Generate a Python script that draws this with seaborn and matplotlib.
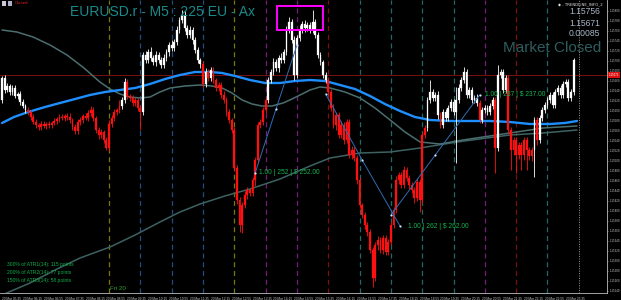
import numpy as np
import pandas as pd
import matplotlib
matplotlib.use("Agg")
import matplotlib.pyplot as plt
import matplotlib.transforms as mtrans
from matplotlib.patches import Rectangle
import seaborn as sns

# ---------------- data (prices in points above 1.15000, 1 point = 0.00001) ----------------
first_open = 621
close_pts = [
    665, 641, 649, 637, 645, 629, 633, 617, 609, 601, 597, 587, 577, 571, 567, 573, 569, 573, 571, 575,
    579, 583, 587, 585, 589, 587, 581, 567, 559, 577, 581, 589, 585, 595, 601, 585, 561, 551, 557, 541,
    525, 573, 585, 597, 601, 609, 621, 657, 629, 625, 615, 621, 605, 597, 711, 701, 717, 705, 697, 711,
    701, 691, 705, 717, 731, 725, 737, 761, 781, 791, 765, 751, 761, 741, 721, 701, 693, 653, 677, 665,
    681, 661, 645, 651, 631, 621, 597, 581, 561, 485, 421, 371, 411, 431, 441, 435, 461, 501, 571, 577,
    601, 621, 661, 677, 697, 685, 705, 701, 717, 761, 777, 741, 671, 745, 761, 773, 765, 771, 761, 777,
    751, 711, 697, 671, 661, 637, 605, 571, 591, 551, 571, 541, 577, 511, 521, 505, 461, 411, 391, 371,
    357, 321, 265, 331, 341, 321, 345, 317, 337, 371, 401, 461, 471, 451, 481, 465, 451, 441, 425, 457,
    421, 551, 565, 621, 637, 625, 631, 591, 571, 597, 585, 605, 617, 597, 621, 645, 661, 677, 631, 641,
    621, 625, 615, 581, 601, 605, 597, 609, 621, 525, 671, 677, 641, 665, 561, 521, 541, 511, 531, 511,
    541, 521, 509, 521, 581, 541, 585, 601, 611, 621, 631, 611, 637, 645, 631, 653, 657, 625, 637, 701,
]
upper_wick = [
    4, 6, 6, 4, 6, 6, 4, 6, 6, 4, 6, 4, 6, 6, 4, 6, 6, 4, 6, 4,
    6, 4, 6, 6, 4, 6, 8, 4, 6, 6, 6, 4, 6, 6, 8, 6, 4, 6, 6, 4,
    6, 8, 6, 6, 4, 12, 6, 8, 6, 4, 6, 6, 4, 6, 6, 8, 6, 10, 6, 8,
    6, 6, 8, 6, 6, 10, 6, 8, 6, 10, 8, 6, 8, 6, 6, 6, 4, 6, 8, 6,
    6, 6, 4, 6, 6, 8, 6, 6, 4, 6, 6, 6, 6, 8, 6, 4, 6, 6, 6, 6,
    6, 6, 6, 6, 8, 6, 6, 10, 6, 8, 10, 6, 8, 6, 10, 6, 8, 6, 6, 24,
    6, 6, 6, 4, 6, 6, 6, 8, 6, 6, 8, 6, 6, 6, 8, 6, 6, 6, 4, 6,
    6, 6, 6, 6, 8, 6, 6, 6, 6, 6, 6, 8, 6, 6, 8, 6, 6, 6, 6, 8,
    6, 6, 6, 6, 24, 6, 6, 8, 6, 6, 6, 6, 6, 6, 26, 8, 6, 10, 6, 6,
    6, 6, 8, 6, 6, 6, 6, 6, 6, 6, 20, 6, 6, 6, 6, 6, 6, 6, 6, 6,
    6, 6, 6, 6, 6, 6, 6, 6, 6, 6, 6, 6, 6, 6, 6, 6, 6, 6, 6, 4,
]
lower_wick = [
    6, 6, 4, 6, 6, 4, 6, 6, 4, 6, 6, 6, 4, 6, 6, 6, 4, 6, 6, 6,
    4, 6, 6, 4, 6, 6, 6, 6, 6, 6, 6, 6, 4, 6, 6, 6, 6, 8, 6, 6,
    4, 6, 6, 6, 6, 6, 6, 6, 6, 6, 6, 6, 6, 36, 6, 6, 6, 6, 6, 8,
    6, 6, 6, 6, 8, 6, 6, 6, 6, 6, 6, 6, 6, 8, 6, 6, 8, 6, 6, 6,
    6, 6, 6, 6, 6, 6, 8, 6, 6, 6, 8, 14, 16, 6, 8, 6, 6, 12, 6, 6,
    6, 6, 6, 6, 6, 6, 8, 6, 6, 6, 6, 6, 10, 6, 6, 6, 8, 6, 6, 6,
    6, 6, 6, 6, 6, 8, 6, 6, 10, 6, 6, 8, 6, 6, 8, 6, 8, 6, 6, 8,
    8, 6, 18, 6, 10, 6, 8, 6, 6, 6, 6, 6, 8, 6, 6, 6, 8, 6, 10, 6,
    24, 6, 6, 6, 6, 6, 6, 8, 6, 6, 6, 6, 6, 6, 102, 6, 6, 6, 6, 6,
    6, 6, 6, 6, 6, 6, 6, 6, 6, 50, 6, 6, 6, 6, 8, 40, 10, 36, 8, 30,
    10, 40, 8, 10, 54, 10, 6, 6, 6, 6, 6, 6, 6, 6, 6, 6, 6, 6, 6, 6,
]
# W = candle above the blue average (white), R = below (red)
candle_flags = ("W" * 10 + "R" * 36 + "W" * 2 + "R" * 6 + "W" * 23 + "R" + "W" + "R" + "W"
                + "R" * 21 + "W" * 23 + "R" * 38 + "W" * 5 + "R" + "W" * 14 + "R" + "W" * 5
                + "R" + "W" * 4 + "R" * 10 + "W" + "R" + "W" * 14)

ma_fast_idx = [0, 4.6, 10, 16.5, 22.2, 28, 33.7, 39.5, 45.2, 51, 56.7, 62.5, 68.2, 73.9, 79.7,
               84.3, 89.3, 95, 100.8, 106.5, 112.3, 118, 123.8, 129.5, 135.2, 141, 146.7, 152.5,
               158.2, 164, 171.6, 179.3, 187, 194.6, 202.3, 210, 215.7, 220.3]
ma_fast_pts = [575, 587, 597, 607, 615, 623, 631, 637, 641, 645, 653, 663, 671, 677, 677, 675,
               669, 661, 655, 655, 659, 661, 659, 651, 643, 629, 613, 599, 587, 581, 579, 579,
               579, 577, 573, 573, 575, 579]
ma_mid_idx = [0, 5.7, 11.9, 18.4, 24.9, 31.4, 37.5, 41.4, 45.2, 49, 52.9, 56.7, 60.5, 64.4, 70.1,
              75.9, 80.5, 84.3, 88.1, 92, 95.8, 99.6, 103.4, 107.7, 111.1, 114.2, 118, 121.8,
              125.7, 131.4, 137.2, 142.9, 148.7, 154.4, 160.2, 167.8, 176.6, 184.3, 194.6, 207.3,
              220.3]
ma_mid_pts = [761, 757, 747, 731, 711, 685, 657, 643, 633, 627, 625, 627, 637, 645, 649, 651, 649,
              645, 635, 621, 613, 609, 609, 615, 623, 631, 641, 647, 645, 637, 625, 605, 581, 557,
              537, 533, 541, 547, 555, 565, 569]
ma_slow_idx = [0, 10.7, 20.3, 29.9, 41.4, 51, 60.5, 68.2, 75.9, 85.4, 95, 106.5, 118, 125.7,
               137.2, 148.7, 160.2, 174.3, 194.6, 207.3, 220.3]
ma_slow_pts = [231, 255, 281, 305, 327, 351, 377, 397, 413, 429, 443, 463, 489, 505, 515, 517,
               525, 537, 551, 555, 561]

trade_lines = [
    ([97, 105, 113], [475, 603, 731]),
    ([124, 138, 152.5], [633, 501, 369]),
    ([149, 166, 183], [391, 511, 631]),
]
trade_labels = ["1.00 | 252 | $ 252.00", "1.00 | 262 | $ 262.00", "1.00 | 237 | $ 237.00"]
trade_label_pos = [(98.5, 475), (155.5, 369), (185, 631)]

sep_idx = [41, 53, 65, 77, 89, 101, 113, 125, 137, 149, 161, 173, 185, 197, 209]
sep_colors = ["#77770a", "#1d4f86", "#1d4f86", "#1d4f86", "#77770a", "#7a1a7a", "#7a1a7a",
              "#7a1010", "#1f6a66", "#1f6a66", "#1f6a66", "#1f6a66", "#7a1a7a", "#7a1010", "#1f6a66"]

time_tick_idx = [0, 8, 16, 24, 32, 40, 48, 56, 64, 72, 80, 88, 96, 104, 112, 120, 128, 136, 144,
                 152, 160, 168, 176, 184, 192, 200, 208, 216]
time_tick_labels = ["20 Mar 05:35", "20 Mar 06:15", "20 Mar 06:55", "20 Mar 07:35", "20 Mar 08:15",
                    "20 Mar 08:55", "20 Mar 09:35", "20 Mar 10:15", "20 Mar 10:55", "20 Mar 11:35",
                    "20 Mar 12:15", "20 Mar 12:55", "20 Mar 13:35", "20 Mar 14:15", "20 Mar 14:55",
                    "20 Mar 15:35", "20 Mar 16:15", "20 Mar 16:55", "20 Mar 17:35", "20 Mar 18:15",
                    "20 Mar 18:55", "20 Mar 19:35", "20 Mar 20:15", "20 Mar 20:55", "20 Mar 21:35",
                    "20 Mar 22:15", "20 Mar 22:55", "20 Mar 23:35"]

last_price_pts = 671
info_lines = ["1.15756", "1.15671", "0.00085"]
atr_lines = ["300% of ATR1(14): 115 points", "200% of ATR2(14): 77 points",
             "150% of ATR3(14): 58 points"]
title_text = "EURUSD.r - M5 : 225 EU - Ax"

# ---------------- styling ----------------
sns.set_theme(style="dark", rc={"axes.facecolor": "black", "figure.facecolor": "black",
                                "axes.grid": False})
plt.rcParams["font.family"] = ["Liberation Sans", "DejaVu Sans"]

def px(v):
    return 1.15 + np.asarray(v, dtype=float) * 1e-5

W, H = 621, 300
fig = plt.figure(figsize=(W / 100, H / 100), dpi=100)
fig.patch.set_facecolor("black")
ax = fig.add_axes([0, 7 / H, 607 / W, 293 / H])
ax.set_facecolor("black")

closes = px(close_pts)
opens = np.concatenate([[px(first_open)], closes[:-1]])
top = np.maximum(opens, closes)
bot = np.minimum(opens, closes)
highs = top + np.asarray(upper_wick) * 1e-5
lows = bot - np.asarray(lower_wick) * 1e-5
idx = np.arange(len(closes))
cols = ["#ffffff" if f == "W" else "#ff1010" for f in candle_flags]

# separators
for s, c in zip(sep_idx, sep_colors):
    ax.axvline(s, color=c, lw=0.9, ls=(0, (4, 3)), zorder=1)
ax.axvline(221, color="#9a9a9a", lw=0.7, ls=(0, (1, 1.5)), zorder=1)
ax.axhline(px(last_price_pts), color="#7a1010", lw=0.7, zorder=1)

# moving averages
sns.lineplot(x=ma_slow_idx, y=px(ma_slow_pts), ax=ax, color="#3d6262", lw=1.1,
             estimator=None, sort=False, zorder=2)
sns.lineplot(x=ma_mid_idx, y=px(ma_mid_pts), ax=ax, color="#4b6e6e", lw=1.1,
             estimator=None, sort=False, zorder=2)
sns.lineplot(x=ma_fast_idx, y=px(ma_fast_pts), ax=ax, color="#1e8fff", lw=1.7,
             estimator=None, sort=False, zorder=2)

# candles
ax.vlines(idx, lows, highs, colors=cols, lw=0.6, zorder=3)
ax.bar(idx, np.maximum(top - bot, 1.5e-5), bottom=bot, width=0.7, color=cols,
       edgecolor=cols, lw=0.2, zorder=4)

# trade lines
for (tx, ty), lab, (lx, ly) in zip(trade_lines, trade_labels, trade_label_pos):
    sns.lineplot(x=tx, y=px(ty), ax=ax, color="#2e6db4", lw=0.7, estimator=None, sort=False,
                 zorder=5)
    ax.scatter(tx, px(ty), s=2.5, color="#d0e4ff", zorder=6, linewidths=0)
    ax.text(lx, px(ly), lab, color="#12b450", fontsize=4.8, va="center", ha="left", zorder=7)

# magenta box
ax.add_patch(Rectangle((105.4, px(761)), 17.6, 48e-5, fill=False, edgecolor="#ff00ff",
                       lw=1.4, zorder=8))

ax.set_xlim(-0.77, 231.8)
ax.set_ylim(px(235), px(821))

# axes / ticks
for side in ["top", "left"]:
    ax.spines[side].set_visible(False)
for side in ["right", "bottom"]:
    ax.spines[side].set_visible(True)
    ax.spines[side].set_color("#bdbdbd")
    ax.spines[side].set_linewidth(0.6)
ax.yaxis.tick_right()
yt = px(np.arange(240, 801, 20))
ax.set_yticks(yt)
ax.set_yticklabels([f"{v:.5f}" for v in yt])
ax.set_xticks(time_tick_idx)
ax.set_xticklabels(time_tick_labels)
ax.tick_params(axis="y", colors="#c8c8c8", labelsize=2.1, length=1.0, width=0.4, pad=0.8,
               right=True, left=False)
ax.tick_params(axis="x", colors="#c8c8c8", labelsize=2.3, length=1.5, width=0.4, pad=1.5)
for t in ax.get_xticklabels():
    t.set_ha("left")
ax.set_xlabel("")
ax.set_ylabel("")

# last price box on right axis
tr = mtrans.blended_transform_factory(ax.transAxes, ax.transData)
ax.text(1.003, px(last_price_pts), "1.15671", transform=tr, fontsize=2.1, color="white",
        va="center", ha="left", clip_on=False,
        bbox=dict(boxstyle="square,pad=0.25", fc="#e01010", ec="none"), zorder=9)

# overlay texts
def fx(x):
    return x / W

def fy(y):
    return 1 - y / H

fig.text(fx(70), fy(11.5), title_text, fontsize=10, color="#1a8a8a", va="center", ha="left")
for k, s in enumerate(info_lines):
    fig.text(fx(600), fy(12 + 11 * k), s, fontsize=6.2, color="#a8b6c6", va="center", ha="right")
fig.text(fx(601), fy(48.5), "Market Closed", fontsize=11, color="#2f5d5d", va="center",
         ha="right")
fig.text(fx(603), fy(4), "\u25c6 - TRENDLINE_INFO_2", fontsize=2.8, color="#e0e0e0",
         va="center", ha="right", family=["DejaVu Sans"])
fig.text(fx(15), fy(3.5), "Closed", fontsize=3.2, color="#e02020", va="center", ha="left")
fig.add_artist(Rectangle((fx(1.5), fy(6)), 4.5 / W, 4.5 / H, transform=fig.transFigure,
                         fc="#c8c8d8", ec="none"))
fig.add_artist(Rectangle((fx(7.5), fy(6)), 4.5 / W, 4.5 / H, transform=fig.transFigure,
                         fc="#b0b0c8", ec="none"))
for k, s in enumerate(atr_lines):
    fig.text(fx(7), fy(264.5 + 7.8 * k), s, fontsize=3.6, color="#0fae4a", va="center",
             ha="left")
fig.text(fx(110), fy(288), "Fri 20", fontsize=4.5, color="#2fa02f", va="center", ha="left")

fig.savefig("out.png", dpi=100, facecolor="black")
